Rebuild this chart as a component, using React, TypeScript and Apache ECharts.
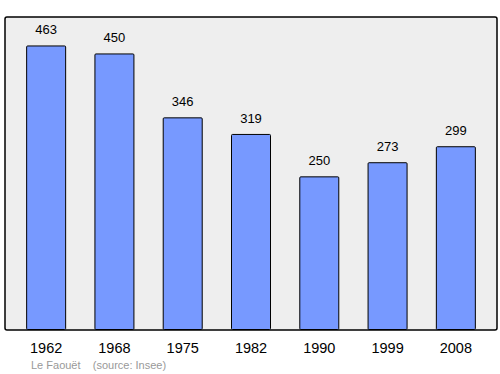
import React, { useEffect, useRef } from "react";
import * as echarts from "echarts";

const years = ["1962", "1968", "1975", "1982", "1990", "1999", "2008"];
const population = [463, 450, 346, 319, 250, 273, 299];
const footerName = "Le Faouët";
const footerSource = "(source: Insee)";

export default function App() {
  const ref = useRef<HTMLDivElement>(null);
  useEffect(() => {
    if (!ref.current) return;
    const chart = echarts.init(ref.current, null, { renderer: "svg" });
    const maxVal = Math.max(...population) * 1.1;
    chart.setOption({
      animation: false,
      textStyle: { fontFamily: "Liberation Sans, Arial, sans-serif" },
      graphic: [
        {
          type: "rect",
          z: -10,
          shape: { x: 5, y: 17, width: 492, height: 313, r: 2 },
          style: { fill: "#eeeeee", stroke: "#000", lineWidth: 1.5 },
          silent: true,
        },
        {
          type: "text",
          left: 31,
          top: 359,
          style: {
            text: footerName + "    " + footerSource,
            fill: "#999999",
            font: "11px Liberation Sans, Arial, sans-serif",
          },
        },
      ],
      grid: { left: 12, right: 10, top: 17, bottom: 44, containLabel: false },
      xAxis: {
        type: "category",
        data: years,
        axisLine: { show: false },
        axisTick: { show: false },
        axisLabel: { color: "#000", fontSize: 14.5, margin: 10, fontFamily: "Liberation Sans, Arial, sans-serif" },
      },
      yAxis: {
        type: "value",
        min: 0,
        max: maxVal,
        show: false,
        splitLine: { show: false },
      },
      series: [
        {
          type: "bar",
          data: population,
          barWidth: 40,
          itemStyle: { color: "#7799ff", borderColor: "#000", borderWidth: 1, borderRadius: 1 },
          label: {
            show: true,
            position: "top",
            distance: 9,
            color: "#000",
            fontSize: 13,
            fontFamily: "Liberation Sans, Arial, sans-serif",
          },
        },
      ],
    });
    return () => chart.dispose();
  }, []);
  return <div ref={ref} style={{ width: 500, height: 374, position: "absolute", left: 0, top: 0 }} />;
}
